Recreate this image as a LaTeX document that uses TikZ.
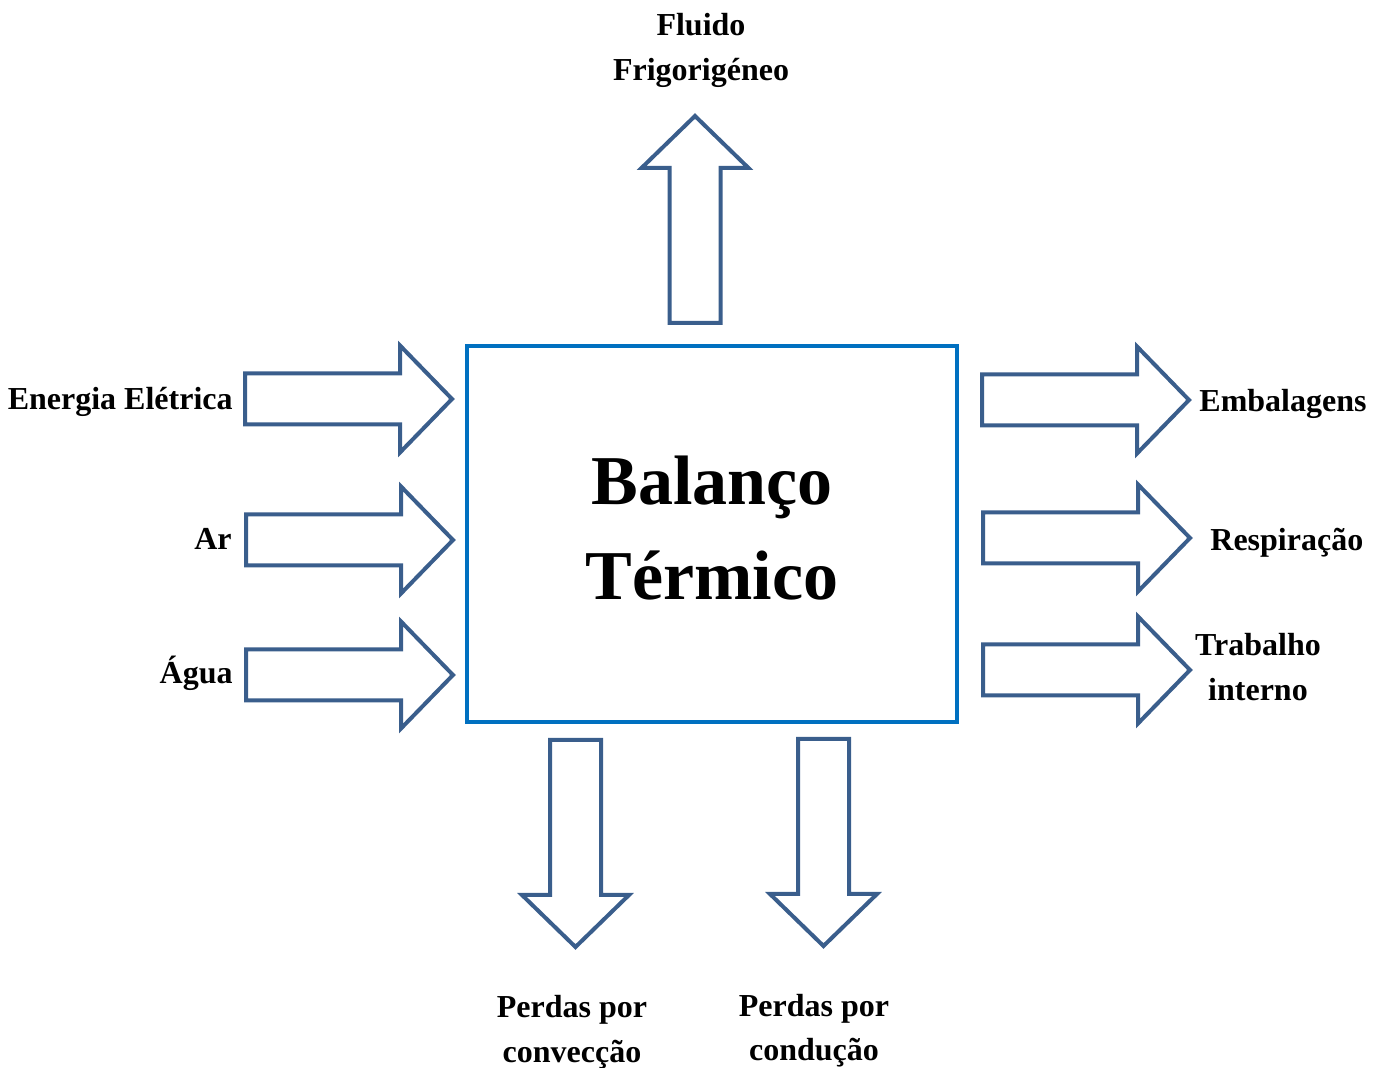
\documentclass[tikz,border=0pt]{standalone}
\usepackage{fontspec}
\setmainfont{Liberation Serif}
\definecolor{boxblue}{HTML}{0070C0}
\definecolor{arrowblue}{HTML}{3A5E8C}
\begin{document}
\begin{tikzpicture}[x=0.5pt,y=-0.5pt,
  arrowline/.style={draw=arrowblue, line width=2pt, line join=miter, fill=white},
  blockarrow/.pic={
    \draw[arrowline] (0,-25.5) -- (155,-25.5) -- (155,-53.5) -- (207,0)
      -- (155,53.5) -- (155,25.5) -- (0,25.5) -- cycle;
  },
  lbl/.style={font=\fontsize{16}{22.5}\selectfont\bfseries, inner sep=0pt},
  title/.style={font=\fontsize{35}{47.5}\selectfont\bfseries, inner sep=0pt, anchor=base},
  balance/.style={draw=boxblue, line width=2pt, minimum width=245pt, minimum height=188pt, inner sep=0pt}
]
\useasboundingbox (0,0) rectangle (1382,1068);

% central system box
\node[balance] (box) at (712,534) {};
\node[title] (t1) at (712,505) {Balanço};
\node[title] (t2) at (712,600) {Térmico};

% inputs (left)
\pic at (245,399) {blockarrow};
\pic at (246,540) {blockarrow};
\pic at (246,675) {blockarrow};
\node[lbl, anchor=base east] (in1) at (233,410) {Energia Elétrica};
\node[lbl, anchor=base east] (in2) at (232,550) {Ar};
\node[lbl, anchor=base east] (in3) at (233,684) {Água};

% outputs (right)
\pic at (982,400) {blockarrow};
\pic at (983,538) {blockarrow};
\pic at (983,670) {blockarrow};
\node[lbl, anchor=base west] (out1) at (1199,412) {Embalagens};
\node[lbl, anchor=base west] (out2) at (1210,551) {Respiração};
\node[lbl, anchor=base] (out3a) at (1258,656) {Trabalho};
\node[lbl, anchor=base] (out3b) at (1258,701) {interno};

% refrigerant (top)
\pic[rotate=90] at (695,323) {blockarrow};
\node[lbl, anchor=base] (top1) at (701,36) {Fluido};
\node[lbl, anchor=base] (top2) at (701,81) {Frigorigéneo};

% losses (bottom)
\pic[rotate=-90] at (575.5,740) {blockarrow};
\pic[rotate=-90] at (823.5,739) {blockarrow};
\node[lbl, anchor=base] (bot1a) at (572,1017) {Perdas por};
\node[lbl, anchor=base] (bot1b) at (572,1062) {convecção};
\node[lbl, anchor=base] (bot2a) at (814,1016) {Perdas por};
\node[lbl, anchor=base] (bot2b) at (814,1060) {condução};
\end{tikzpicture}
\end{document}
